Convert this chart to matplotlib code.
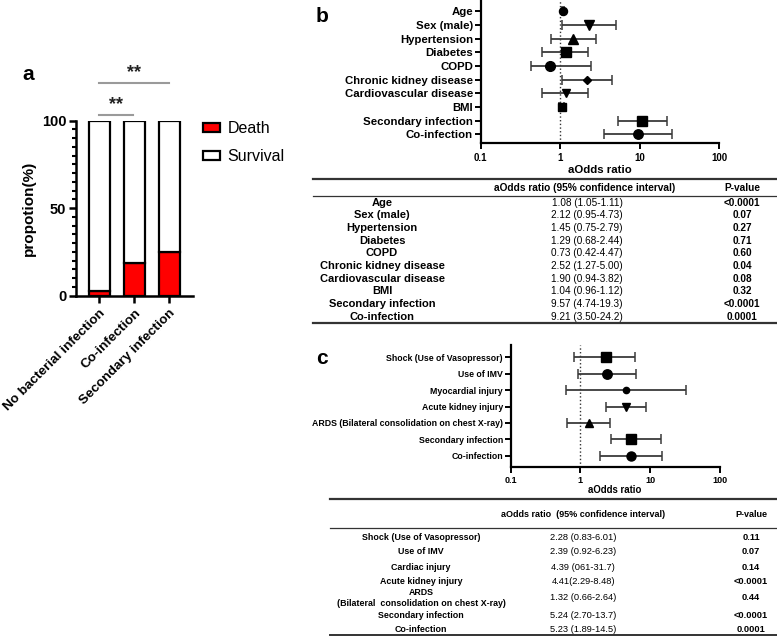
import matplotlib.pyplot as plt
import numpy as np
from matplotlib.patches import Patch
from matplotlib.ticker import MultipleLocator, FixedLocator

plt.rcParams['font.family'] = ['Liberation Sans', 'DejaVu Sans']

# ---- panel a data
groups = ['No bacterial infection', 'Co-infection', 'Secondary infection']
death = [2.7, 18.7, 24.8]
survival = [100 - d for d in death]

# ---- panel b data (forest + table)
b_labels = ['Age', 'Sex (male)', 'Hypertension', 'Diabetes', 'COPD',
            'Chronic kidney disease', 'Cardiovascular disease', 'BMI',
            'Secondary infection', 'Co-infection']
b_or = [1.09, 2.32, 1.47, 1.17, 0.74, 2.17, 1.17, 1.05, 10.8, 9.44]
b_lo = [1.05, 1.06, 0.77, 0.59, 0.43, 1.05, 0.59, 0.96, 5.28, 3.52]
b_hi = [1.11, 5.08, 2.84, 2.25, 2.44, 4.52, 2.25, 1.12, 21.9, 25.6]
b_ci = ['1.08 (1.05-1.11)', '2.12 (0.95-4.73)', '1.45 (0.75-2.79)', '1.29 (0.68-2.44)',
        '0.73 (0.42-4.47)', '2.52 (1.27-5.00)', '1.90 (0.94-3.82)', '1.04 (0.96-1.12)',
        '9.57 (4.74-19.3)', '9.21 (3.50-24.2)']
b_p = ['<0.0001', '0.07', '0.27', '0.71', '0.60', '0.04', '0.08', '0.32', '<0.0001', '0.0001']

# ---- panel c data (forest + table)
c_labels = ['Shock (Use of Vasopressor)', 'Use of IMV', 'Myocardial injury',
            'Acute kidney injury', 'ARDS (Bilateral consolidation on chest X-ray)',
            'Secondary infection', 'Co-infection']
c_or = [2.30, 2.40, 4.43, 4.43, 1.31, 5.27, 5.27]
c_lo = [0.82, 0.93, 0.62, 2.30, 0.65, 2.71, 1.89]
c_hi = [6.08, 6.35, 32.7, 8.7, 2.68, 14.1, 14.8]
c_tab_labels = ['Shock (Use of Vasopressor)', 'Use of IMV', 'Cardiac injury',
                'Acute kidney injury', 'ARDS\n(Bilateral  consolidation on chest X-ray)',
                'Secondary infection', 'Co-infection']
c_ci = ['2.28 (0.83-6.01)', '2.39 (0.92-6.23)', '4.39 (061-31.7)', '4.41(2.29-8.48)',
        '1.32 (0.66-2.64)', '5.24 (2.70-13.7)', '5.23 (1.89-14.5)']
c_p = ['0.11', '0.07', '0.14', '<0.0001', '0.44', '<0.0001', '0.0001']

xticks = [0.1, 1, 10, 100]

W, H = 777, 636
fig = plt.figure(figsize=(W / 100, H / 100), dpi=100)

# overlay in pixel coords for tables and panel letters
ov = fig.add_axes([0, 0, 1, 1])
ov.set_xlim(0, W)
ov.set_ylim(H, 0)
ov.axis('off')


def px_axes(l, t, r, b):
    return fig.add_axes([l / W, 1 - b / H, (r - l) / W, (b - t) / H])


# ================= panel a =================
ax = px_axes(76, 120.7, 192.7, 295.7)
x = np.arange(len(groups))
ax.bar(x, death, width=0.61, color='#ff0000', edgecolor='black', lw=1.6, label='Death')
ax.bar(x, survival, bottom=death, width=0.61, color='white', edgecolor='black', lw=1.6,
       label='Survival')
ax.set_xlim(-0.667, 2.667)
ax.set_ylim(0, 100)
for s in ['top', 'right']:
    ax.spines[s].set_visible(False)
for s in ['left', 'bottom']:
    ax.spines[s].set_linewidth(1.8)
ax.set_yticks([0, 50, 100])
ax.yaxis.set_minor_locator(MultipleLocator(5))
ax.tick_params(axis='y', which='major', length=5, width=1.8, labelsize=10.5, pad=2)
ax.tick_params(axis='y', which='minor', length=3, width=1.5)
ax.tick_params(axis='x', length=5, width=1.8, labelsize=9.7, pad=3)
ax.set_xticks(x)
ax.set_xticklabels(groups, rotation=45, ha='right', va='top', rotation_mode='anchor',
                   fontweight='bold')
for lab in ax.get_yticklabels():
    lab.set_fontweight('bold')
ax.set_ylabel('propotion(%)', fontsize=11, fontweight='bold', labelpad=4)

# significance marks
ax.plot([0, 0.95], [103.3, 103.3], color='#9a9a9a', lw=1.5, clip_on=False)
ax.plot([0, 2], [121.4, 121.4], color='#9a9a9a', lw=1.5, clip_on=False)
ax.text(0.48, 104.6, '**', ha='center', va='bottom', fontsize=13, fontweight='bold',
        color='#222222', clip_on=False)
ax.text(1.0, 122.6, '**', ha='center', va='bottom', fontsize=13, fontweight='bold',
        color='#222222', clip_on=False)

fig.legend(handles=[Patch(facecolor='#ff0000', edgecolor='black', lw=1.6, label='Death'),
                    Patch(facecolor='white', edgecolor='black', lw=1.6, label='Survival')],
           loc='upper left', bbox_to_anchor=(203 / W, 1 - 121 / H), frameon=False,
           borderpad=0, borderaxespad=0, fontsize=11.5, handlelength=1.05,
           handleheight=0.5, handletextpad=0.5, labelspacing=0.8)

ov.text(22, 75, 'a', fontsize=15, fontweight='bold', va='center')


# ================= forest helper =================
def forest(axf, labels, orv, lo, hi, markers, msizes, lab_fs, tick_fs):
    y = np.arange(len(labels))
    orv = np.array(orv)
    err = [orv - np.array(lo), np.array(hi) - orv]
    axf.axvline(1, color='#333333', ls=':', lw=1.0, zorder=1)
    axf.errorbar(orv, y, xerr=err, fmt='none', ecolor='#3a3a3a', elinewidth=1.3,
                 capsize=3.5, capthick=1.1, zorder=2)
    for xi, yi, m, ms in zip(orv, y, markers, msizes):
        axf.plot(xi, yi, marker=m, ms=ms, color='black', zorder=3)
    axf.set_xscale('log')
    axf.set_xlim(0.1, 100)
    axf.xaxis.set_major_locator(FixedLocator(xticks))
    axf.xaxis.set_minor_locator(FixedLocator([]))
    axf.set_xticklabels(['0.1', '1', '10', '100'])
    axf.set_yticks(y)
    axf.set_yticklabels(labels)
    for s in ['top', 'right']:
        axf.spines[s].set_visible(False)
    for s in ['left', 'bottom']:
        axf.spines[s].set_linewidth(1.6)
    axf.tick_params(axis='y', length=4, width=1.4, labelsize=lab_fs, pad=1.5)
    axf.tick_params(axis='x', length=4, width=1.4, labelsize=tick_fs, pad=3)
    for lab in axf.get_yticklabels() + axf.get_xticklabels():
        lab.set_fontweight('bold')


# ================= panel b =================
axb = px_axes(480.7, 0.5, 719, 143.3)
forest(axb, b_labels, b_or, b_lo, b_hi,
       ['o', 'v', '^', 's', 'o', 'D', 'v', 's', 's', 'o'],
       [5.8, 7.2, 6.5, 7.2, 7.0, 4.2, 5.8, 5.5, 7.2, 6.8], 8.2, 7)
axb.set_ylim(9.66, -0.78)
ov.text(316, 16, 'b', fontsize=15, fontweight='bold', va='center')

# table b
ov.text(600, 170, 'aOdds ratio', ha='center', va='center', fontsize=8.2, fontweight='bold')
ov.plot([313, 777], [179.3, 179.3], color='#333333', lw=1.6)
ov.plot([313, 777], [195.7, 195.7], color='#333333', lw=0.9)
ov.plot([313, 777], [322.7, 322.7], color='#333333', lw=1.6)
ov.text(585, 188.3, 'aOdds ratio (95% confidence interval)', ha='center', va='center',
        fontsize=7.3, fontweight='bold')
ov.text(742, 188.3, 'P-value', ha='center', va='center', fontsize=7.3, fontweight='bold')
for i, (lab, ci, p) in enumerate(zip(b_labels, b_ci, b_p)):
    yy = 202.7 + i * 12.67
    ov.text(382, yy, lab, ha='center', va='center', fontsize=8.0, fontweight='bold')
    ov.text(587, yy, ci, ha='center', va='center', fontsize=7.2)
    ov.text(742, yy, p, ha='center', va='center', fontsize=7.2, fontweight='bold')

# ================= panel c =================
axc = px_axes(510.7, 345, 720, 466.7)
forest(axc, c_labels, c_or, c_lo, c_hi,
       ['s', 'o', 'o', 'v', '^', 's', 'o'],
       [7.2, 6.8, 4.5, 6.0, 5.5, 6.5, 6.5], 6.3, 6.5)
axc.set_ylim(6.67, -0.75)
ov.text(316, 358, 'c', fontsize=15, fontweight='bold', va='center')

# table c
ov.text(615, 490, 'aOdds ratio', ha='center', va='center', fontsize=6.9, fontweight='bold')
ov.plot([330, 777], [499, 499], color='#333333', lw=1.6)
ov.plot([330, 777], [527.7, 527.7], color='#333333', lw=0.9)
ov.plot([330, 777], [635.3, 635.3], color='#333333', lw=1.4)
ov.text(583, 514.3, 'aOdds ratio  (95% confidence interval)', ha='center', va='center',
        fontsize=6.5, fontweight='bold')
ov.text(751, 514.3, 'P-value', ha='center', va='center', fontsize=6.5, fontweight='bold')
c_rows = [537.0, 552.0, 567.0, 582.0, 598.0, 615.5, 629.8]
for yy, lab, ci, p in zip(c_rows, c_tab_labels, c_ci, c_p):
    ov.text(421, yy, lab, ha='center', va='center', fontsize=6.4, fontweight='bold',
            linespacing=1.15)
    ov.text(583, yy, ci, ha='center', va='center', fontsize=6.7)
    ov.text(751, yy, p, ha='center', va='center', fontsize=6.7, fontweight='bold')

fig.savefig('out.png', dpi=100)
